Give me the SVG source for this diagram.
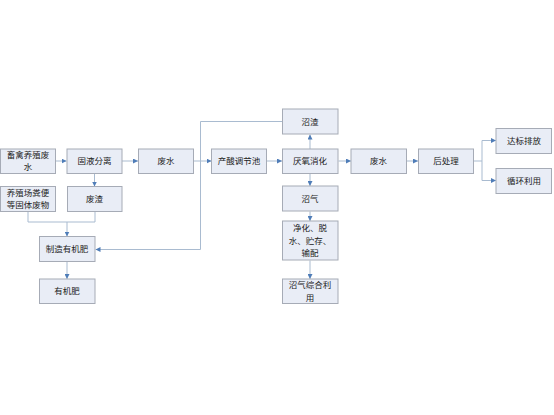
<svg xmlns="http://www.w3.org/2000/svg" width="554" height="415" viewBox="0 0 554 415">
<defs>
<marker id="a" viewBox="0 0 6 6" refX="6" refY="3" markerWidth="5" markerHeight="5" orient="auto" markerUnits="userSpaceOnUse">
<path d="M0,0 L6,3 L0,6 z" fill="#4F7DB8"/>
</marker>
<style>
.b{fill:#E9EDF6;stroke:#A6ABB6;stroke-width:1}
.t{font-family:"Noto Sans CJK SC","Liberation Sans",sans-serif;font-size:8.5px;fill:#222;text-anchor:middle}
.c{fill:none;stroke:#A9BBD0;stroke-width:1}
.c path.ar{marker-end:url(#a)}
</style>
</defs>
<rect width="554" height="415" fill="#fff"/>
<g id="connectors" class="c">
<path class="ar" d="M55.5,161 H66.5"/>
<path class="ar" d="M122,161 H138"/>
<path class="ar" d="M94.5,173.5 V186.5"/>
<path d="M28,211.5 V222 M95,211.5 V222 M28,222 H95"/>
<path class="ar" d="M67,222 V236.5"/>
<path class="ar" d="M193.5,161 H211.5"/>
<path class="ar" d="M267,161 H282"/>
<path class="ar" d="M310,149 V134.5"/>
<path class="ar" d="M282,121.5 H200.5 V249.5 H95.5"/>
<path class="ar" d="M310,173.5 V186"/>
<path class="ar" d="M310,211.5 V221"/>
<path class="ar" d="M310,260.5 V279"/>
<path class="ar" d="M338.5,161 H351"/>
<path class="ar" d="M407,161 H418"/>
<path d="M473.5,161 H482 M482,140.5 V180.5"/>
<path class="ar" d="M482,140.5 H496"/>
<path class="ar" d="M482,180.5 H496"/>
<path class="ar" d="M67,262 V279"/>
</g>
<g id="n1"><rect class="b" x="0.5" y="149" width="55" height="24.5"/><text class="t" x="28" y="157.8">畜禽养殖废</text><text class="t" x="28" y="170.3">水</text></g>
<g id="n2"><rect class="b" x="67" y="149" width="55" height="24.5"/><text class="t" x="94.5" y="164.3">固液分离</text></g>
<g id="n3"><rect class="b" x="0.5" y="186.5" width="55" height="25"/><text class="t" x="28" y="195.8">养殖场粪便</text><text class="t" x="28" y="208.3">等固体废物</text></g>
<g id="n4"><rect class="b" x="67.5" y="186.5" width="54.5" height="25"/><text class="t" x="94.5" y="202">废渣</text></g>
<g id="n5"><rect class="b" x="39.5" y="236.5" width="55.5" height="25"/><text class="t" x="67" y="252">制造有机肥</text></g>
<g id="n6"><rect class="b" x="39.5" y="279" width="55.5" height="24.5"/><text class="t" x="67" y="294.3">有机肥</text></g>
<g id="n7"><rect class="b" x="138.5" y="149" width="55" height="24.5"/><text class="t" x="166" y="164.3">废水</text></g>
<g id="n8"><rect class="b" x="211.5" y="149" width="55" height="24.5"/><text class="t" x="239" y="164.3">产酸调节池</text></g>
<g id="n9"><rect class="b" x="282.5" y="149" width="55.5" height="24.5"/><text class="t" x="310" y="164.3">厌氧消化</text></g>
<g id="n10"><rect class="b" x="282.5" y="109" width="55.5" height="25"/><text class="t" x="310" y="124.5">沼渣</text></g>
<g id="n11"><rect class="b" x="282.5" y="186" width="55.5" height="25"/><text class="t" x="310" y="201.5">沼气</text></g>
<g id="n12"><rect class="b" x="282.5" y="221" width="55.5" height="39"/><text class="t" x="310" y="231">净化、脱</text><text class="t" x="310" y="243.5">水、贮存、</text><text class="t" x="310" y="256">输配</text></g>
<g id="n13"><rect class="b" x="282.5" y="279" width="55.5" height="24.5"/><text class="t" x="310" y="288">沼气综合利</text><text class="t" x="310" y="300.5">用</text></g>
<g id="n14"><rect class="b" x="351" y="149" width="55.5" height="24.5"/><text class="t" x="378.5" y="164.3">废水</text></g>
<g id="n15"><rect class="b" x="418.5" y="149" width="55" height="24.5"/><text class="t" x="446" y="164.3">后处理</text></g>
<g id="n16"><rect class="b" x="496" y="128.5" width="55.5" height="25"/><text class="t" x="524" y="144">达标排放</text></g>
<g id="n17"><rect class="b" x="496" y="168.5" width="55.5" height="25"/><text class="t" x="524" y="184">循环利用</text></g>
</svg>
